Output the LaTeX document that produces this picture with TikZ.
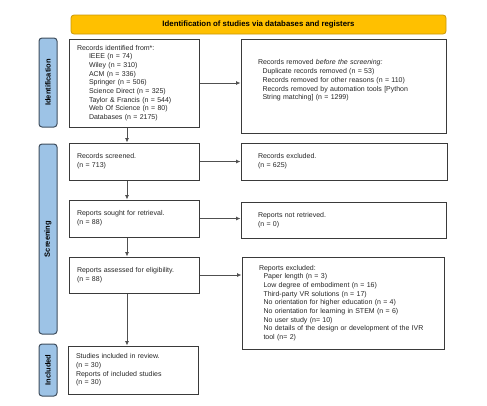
\documentclass[tikz,border=0pt]{standalone}
\usepackage{fontspec}
\setmainfont{Liberation Sans}
\usetikzlibrary{arrows.meta}
\definecolor{bannerfill}{HTML}{FFC000}
\definecolor{bannerdraw}{HTML}{C9980A}
\definecolor{sidefill}{HTML}{9DC3E6}
\definecolor{sidedraw}{HTML}{3F4E5E}
\definecolor{boxdraw}{HTML}{3A3A3A}
\definecolor{arrowcol}{HTML}{505050}
\tikzset{
  txt/.style={font=\fontsize{7}{8.7}\selectfont, text=black!85},
  bx/.style={draw=boxdraw, line width=1pt, fill=white, rectangle, txt, align=left, inner ysep=0pt},
  lbox/.style={bx, inner xsep=8pt, text width=114pt, minimum width=130pt},
  rbox/.style={bx, inner xsep=17pt, text width=#1},
  side/.style={draw=sidedraw, fill=sidefill, line width=1pt, rounded corners=3pt, minimum height=18pt, rotate=90, font=\fontsize{7.5}{8}\selectfont\bfseries, inner sep=0pt},
  banner/.style={draw=bannerdraw, fill=bannerfill, line width=0.8pt, rounded corners=3pt, minimum width=375pt, minimum height=19pt, font=\fontsize{7.8}{9}\selectfont\bfseries, inner sep=0pt},
  arr/.style={draw=arrowcol, line width=0.8pt, -{Latex[length=4.5pt,width=4pt]}}
}
\newcommand{\ind}{\hspace*{4.5pt}}
\newcommand{\indl}{\hspace*{12pt}}
\begin{document}
\begin{tikzpicture}[x=1pt,y=-1pt]
\useasboundingbox (0,0) rectangle (487,405);
% banner
\node[banner] (ban) at (258.5,24.5) {Identification of studies via databases and registers};
% side labels
\node[side, minimum width=89pt] (lid) at (48,82.5) {Identification};
\node[side, minimum width=190pt] (lscr) at (48,239) {Screening};
\node[side, minimum width=52pt] (linc) at (48,370) {Included};
% left boxes
\node[lbox, minimum height=88pt] (idb) at (134,83) {Records identified from*:\\
\indl IEEE (n = 74)\\
\indl Wiley (n = 310)\\
\indl ACM (n = 336)\\
\indl Springer (n = 506)\\
\indl Science Direct (n = 325)\\
\indl Taylor \& Francis (n = 544)\\
\indl Web Of Science (n = 80)\\
\indl Databases (n = 2175)};
\node[lbox, minimum height=37pt] (scr) at (134,161.5) {Records screened.\\(n = 713)};
\node[lbox, minimum height=37pt] (sou) at (134,218.5) {Reports sought for retrieval.\\(n = 88)};
\node[lbox, minimum height=36pt] (ass) at (134,275) {Reports assessed for eligibility.\\(n = 88)};
\node[lbox, minimum height=48pt] (inc) at (133,370) {Studies included in review.\\(n = 30)\\Reports of included studies\\(n = 30)};
% right boxes
\node[rbox=171pt, minimum width=205pt, minimum height=94pt] (rem) at (343.5,86) {Records removed \textit{before the screening:}\\
\ind Duplicate records removed (n = 53)\\
\ind Records removed for other reasons (n = 110)\\
\ind Records removed by automation tools [Python\\
\ind String matching] (n = 1299)\par\vspace*{11pt}};
\node[rbox=172pt, minimum width=206pt, minimum height=37pt] (ex1) at (344,161.5) {Records excluded.\\(n = 625)};
\node[rbox=171pt, minimum width=205pt, minimum height=36pt] (nr) at (343.5,220) {Reports not retrieved.\\(n = 0)};
\node[rbox=168pt, minimum width=202pt, minimum height=92pt] (ex2) at (343,303) {Reports excluded:\\
\ind Paper length (n = 3)\\
\ind Low degree of embodiment (n = 16)\\
\ind Third-party VR solutions (n = 17)\\
\ind No orientation for higher education (n = 4)\\
\ind No orientation for learning in STEM (n = 6)\\
\ind No user study (n= 10)\\
\ind No details of the design or development of the IVR\\
\ind tool (n= 2)};
% connectors
\coordinate (ax) at (127,0);
\draw[arr] (ax |- idb.south) -- (ax |- scr.north);
\draw[arr] (ax |- scr.south) -- (ax |- sou.north);
\draw[arr] (ax |- sou.south) -- (ax |- ass.north);
\draw[arr] (ax |- ass.south) -- (ax |- inc.north);
\draw[arr] (idb.east) -- (rem.west |- idb.east);
\draw[arr] (scr.east) -- (ex1.west |- scr.east);
\draw[arr] (sou.east) -- (nr.west |- sou.east);
\draw[arr] (ass.east) -- (ex2.west |- ass.east);
\end{tikzpicture}
\end{document}
